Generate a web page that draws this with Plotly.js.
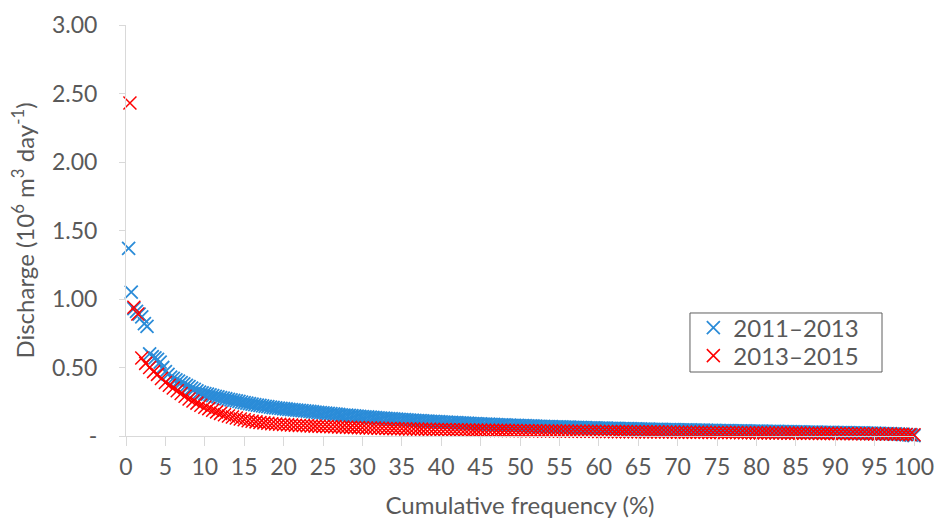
<!DOCTYPE html>
<html>
<head>
<meta charset="utf-8">
<script src="https://cdn.plot.ly/plotly-3.0.1.min.js"></script>
<style>html,body{margin:0;padding:0;background:#fff;}#chart{width:938px;height:519px;}</style>
</head>
<body>
<div id="chart"></div>
<script>
// Discharge (10^6 m3/day), sorted descending (flow duration curve)
const series1Name = "2011\u20132013";
const series1Values = [
1.37,1.05,0.93,0.91,0.89,0.87,0.82,0.80,0.60,0.58,
0.57,0.56,0.54,0.50,0.47,0.45,0.43,0.42,0.41,0.40,
0.39,0.38,0.37,0.36,0.35,0.34,0.33,0.32,0.315,0.31,
0.305,0.30,0.295,0.29,0.285,0.28,0.276,0.272,0.268,0.264,
0.26,0.256,0.252,0.248,0.244,0.24,0.236,0.232,0.229,0.226,
0.223,0.22,0.217,0.214,0.211,0.208,0.205,0.203,0.201,0.199,
0.197,0.195,0.193,0.191,0.189,0.187,0.185,0.183,0.181,0.179,
0.177,0.175,0.173,0.171,0.169,0.167,0.165,0.163,0.161,0.159,
0.157,0.155,0.153,0.152,0.150,0.148,0.147,0.145,0.143,0.142,
0.140,0.139,0.137,0.136,0.134,0.133,0.131,0.130,0.128,0.127,
0.126,0.124,0.123,0.122,0.120,0.119,0.118,0.116,0.115,0.114,
0.113,0.112,0.110,0.109,0.108,0.107,0.106,0.105,0.104,0.103,
0.102,0.101,0.100,0.099,0.098,0.097,0.096,0.095,0.094,0.093,
0.092,0.091,0.090,0.089,0.088,0.087,0.087,0.086,0.085,0.084,
0.083,0.082,0.082,0.081,0.080,0.079,0.078,0.078,0.077,0.076,
0.075,0.075,0.074,0.073,0.073,0.072,0.071,0.071,0.070,0.069,
0.069,0.068,0.067,0.067,0.066,0.066,0.065,0.064,0.064,0.063,
0.063,0.062,0.062,0.061,0.061,0.060,0.060,0.059,0.059,0.058,
0.058,0.057,0.057,0.056,0.056,0.055,0.055,0.054,0.054,0.053,
0.053,0.053,0.052,0.052,0.051,0.051,0.050,0.050,0.050,0.049,
0.049,0.048,0.048,0.048,0.047,0.047,0.046,0.046,0.046,0.045,
0.045,0.045,0.044,0.044,0.044,0.043,0.043,0.043,0.042,0.042,
0.042,0.041,0.041,0.041,0.040,0.040,0.040,0.039,0.039,0.039,
0.038,0.038,0.038,0.037,0.037,0.037,0.036,0.036,0.036,0.035,
0.035,0.035,0.034,0.034,0.034,0.033,0.033,0.033,0.032,0.032,
0.032,0.031,0.031,0.031,0.030,0.030,0.030,0.029,0.029,0.029,
0.028,0.028,0.028,0.027,0.027,0.027,0.026,0.026,0.026,0.025,
0.025,0.025,0.024,0.024,0.024,0.023,0.023,0.023,0.022,0.022,
0.022,0.021,0.021,0.020,0.020,0.019,0.019,0.018,0.018,0.017,
0.017,0.016,0.015,0.014,0.013,0.012,0.010,0.008,0.006,0.003
];

const series2Name = "2013\u20132015";
const series2Values = [
2.43,0.94,0.89,0.57,0.53,0.50,0.47,0.45,0.42,0.39,
0.37,0.35,0.33,0.31,0.29,0.27,0.255,0.24,0.225,0.21,
0.20,0.188,0.176,0.165,0.155,0.146,0.138,0.131,0.124,0.118,
0.112,0.107,0.103,0.099,0.096,0.093,0.090,0.088,0.086,0.084,
0.082,0.080,0.079,0.077,0.076,0.075,0.073,0.072,0.071,0.070,
0.069,0.068,0.067,0.066,0.065,0.064,0.063,0.062,0.061,0.060,
0.059,0.058,0.058,0.057,0.056,0.055,0.055,0.054,0.053,0.053,
0.052,0.051,0.051,0.050,0.050,0.049,0.049,0.048,0.048,0.047,
0.047,0.046,0.046,0.045,0.045,0.044,0.044,0.043,0.043,0.043,
0.042,0.042,0.042,0.041,0.041,0.041,0.040,0.040,0.040,0.039,
0.039,0.039,0.038,0.038,0.038,0.037,0.037,0.037,0.036,0.036,
0.036,0.036,0.035,0.035,0.035,0.034,0.034,0.034,0.034,0.033,
0.033,0.033,0.033,0.032,0.032,0.032,0.032,0.031,0.031,0.031,
0.031,0.030,0.030,0.030,0.030,0.029,0.029,0.029,0.029,0.028,
0.028,0.028,0.028,0.027,0.027,0.027,0.027,0.026,0.026,0.026,
0.026,0.025,0.025,0.025,0.025,0.024,0.024,0.024,0.024,0.023,
0.023,0.023,0.023,0.022,0.022,0.022,0.022,0.021,0.021,0.021,
0.021,0.020,0.020,0.020,0.020,0.019,0.019,0.019,0.019,0.018,
0.018,0.018,0.018,0.017,0.017,0.017,0.016,0.016,0.016,0.015,
0.015,0.015,0.014,0.014,0.013,0.013,0.012,0.011,0.010,0.009
];

const xTickVals = [0,5,10,15,20,25,30,35,40,45,50,55,60,65,70,75,80,85,90,95,100];
const yTickVals = [0,0.5,1,1.5,2,2.5,3];
const yTickText = ["-","0.50","1.00","1.50","2.00","2.50","3.00"];

// cumulative frequency (%) = rank / count * 100
function cumFreq(vals){ return vals.map((v,i)=> (i+1)/vals.length*100); }

const FONT = "Lato, 'Open Sans', sans-serif";
const GREY = "#595959";

const traces = [
  {x: cumFreq(series1Values), y: series1Values, name: series1Name, type: "scatter", mode: "markers",
   cliponaxis: false, legend: "legend",
   marker: {symbol: "x-thin-open", size: 13, line: {color: "#2B8CD8", width: 1.8}, color: "#2B8CD8"}},
  {x: cumFreq(series2Values), y: series2Values, name: series2Name, type: "scatter", mode: "markers",
   cliponaxis: false, legend: "legend2",
   marker: {symbol: "x-thin-open", size: 13, line: {color: "#FF0000", width: 1.5}, color: "#FF0000"}}
];

const legendCommon = {x: 0.72, xanchor: "left", yanchor: "middle",
  borderwidth: 0, bgcolor: "rgba(0,0,0,0)",
  font: {family: FONT, size: 24, color: GREY}, itemwidth: 30};

const layout = {
  width: 938, height: 519,
  margin: {l: 126, r: 24, t: 25, b: 83},
  paper_bgcolor: "#fff", plot_bgcolor: "#fff",
  font: {family: FONT, color: GREY, size: 23},
  showlegend: true,
  legend: Object.assign({}, legendCommon, {y: 0.2628}),
  legend2: Object.assign({}, legendCommon, {y: 0.1946}),
  shapes: [{type: "rect", xref: "paper", yref: "paper", x0: 0.7157, x1: 0.9594, y0: 0.1557, y1: 0.2993,
    line: {color: "#5f5f5f", width: 1}, fillcolor: "rgba(255,255,255,1)", layer: "below"}],
  xaxis: {range: [0, 100], tickvals: xTickVals, ticks: "outside", ticklen: 9, tickcolor: "#D9D9D9",
    showline: true, linecolor: "#D9D9D9", linewidth: 1, showgrid: false, zeroline: false,
    tickfont: {family: FONT, size: 23, color: GREY}, ticklabelstandoff: 1,
    title: {text: "Cumulative frequency (%)", font: {family: FONT, size: 24, color: GREY}, standoff: 22}},
  yaxis: {range: [0, 3], tickvals: yTickVals, ticktext: yTickText, ticks: "outside", ticklen: 6, tickcolor: "#D9D9D9",
    showline: true, linecolor: "#D9D9D9", linewidth: 1, showgrid: false, zeroline: false,
    tickfont: {family: FONT, size: 23, color: GREY}, ticklabelstandoff: 17,
    title: {text: "Discharge (10<sup>6</sup> m<sup>3</sup> day<sup>-1</sup>)", font: {family: FONT, size: 24, color: GREY}, standoff: 10}}
};

Plotly.newPlot("chart", traces, layout, {displayModeBar: false, staticPlot: true});
</script>
</body>
</html>
